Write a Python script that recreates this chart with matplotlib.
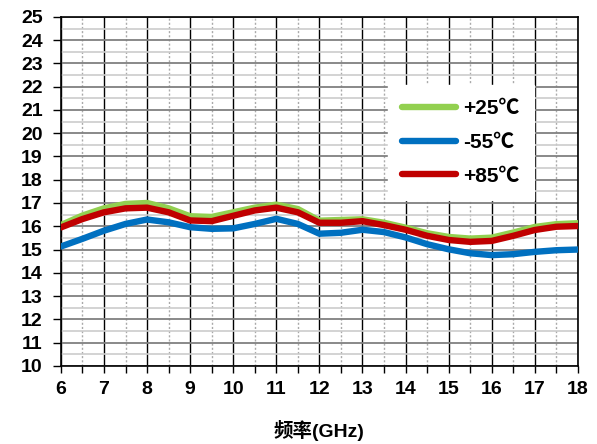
import matplotlib
matplotlib.use("Agg")
import matplotlib.pyplot as plt
from matplotlib.ticker import MultipleLocator

plt.rcParams['font.family'] = ['Liberation Sans', 'Noto Sans CJK SC']

freq = [6, 6.5, 7, 7.5, 8, 8.5, 9, 9.5, 10, 10.5, 11, 11.5, 12,
        12.5, 13, 13.5, 14, 14.5, 15, 15.5, 16, 16.5, 17, 17.5, 18]

gain_p25 = [16.05, 16.46, 16.77, 16.96, 17.0, 16.77, 16.43, 16.4, 16.6, 16.8, 16.93, 16.74, 16.24,
            16.27, 16.3, 16.15, 15.94, 15.7, 15.54, 15.47, 15.51, 15.73, 15.97, 16.09, 16.13]
gain_m55 = [15.13, 15.46, 15.81, 16.1, 16.29, 16.17, 15.96, 15.89, 15.91, 16.1, 16.32, 16.1, 15.68,
            15.72, 15.85, 15.75, 15.52, 15.23, 15.01, 14.84, 14.76, 14.8, 14.9, 14.97, 15.0]
gain_p85 = [15.95, 16.31, 16.6, 16.77, 16.8, 16.6, 16.25, 16.22, 16.45, 16.68, 16.8, 16.6, 16.15,
            16.15, 16.22, 16.05, 15.85, 15.59, 15.41, 15.33, 15.37, 15.59, 15.84, 15.98, 16.01]

labels = ["+25℃", "-55℃", "+85℃"]
colors = ["#92D050", "#0070C0", "#C00000"]

fig = plt.figure(figsize=(5.97, 4.44), dpi=100)
ax = fig.add_axes([0.102, 0.176, 0.866, 0.786])

for ys, lab, c in zip([gain_p25, gain_m55, gain_p85], labels, colors):
    ax.plot(freq, ys, color=c, lw=4.6, label=lab, solid_joinstyle="round",
            solid_capstyle="round", zorder=3)

ax.set_xlim(6, 18)
ax.set_ylim(10, 25)
ax.xaxis.set_major_locator(MultipleLocator(1))
ax.xaxis.set_minor_locator(MultipleLocator(0.5))
ax.yaxis.set_major_locator(MultipleLocator(1))
ax.yaxis.set_minor_locator(MultipleLocator(0.5))

# grid like the excel sheet
ax.grid(which="major", axis="x", color="black", lw=1.0)
ax.grid(which="minor", axis="x", color="#aaaaaa", lw=1.0, ls=(0, (1.5, 1.5)))
ax.grid(which="major", axis="y", color="#808080", lw=1.3)
ax.grid(which="minor", axis="y", color="#cccccc", lw=1.2)
ax.set_axisbelow(True)

ax.tick_params(axis="x", which="both", direction="out", length=5, width=1, color="black", pad=6)
ax.tick_params(axis="y", which="major", direction="out", length=6, width=1, color="black", pad=7)
ax.tick_params(axis="y", which="minor", length=0)
ax.tick_params(labelsize=14)
for t in ax.get_xticklabels() + ax.get_yticklabels():
    t.set_fontweight("bold")

for s in ax.spines.values():
    s.set_color("black")
    s.set_linewidth(1.2)

ax.set_xlabel("频率(GHz)", fontsize=14, fontweight="bold", labelpad=16)

leg = ax.legend(loc="upper left", bbox_to_anchor=(0.612, 0.835), frameon=True,
                fancybox=False, framealpha=1, edgecolor="white",
                prop={"size": 15, "weight": "bold"}, handlelength=2.6,
                labelspacing=0.7, borderpad=0.7, handletextpad=0.3)
for l in leg.get_lines():
    l.set_linewidth(4.6)

fig.savefig("out.png", dpi=100)
